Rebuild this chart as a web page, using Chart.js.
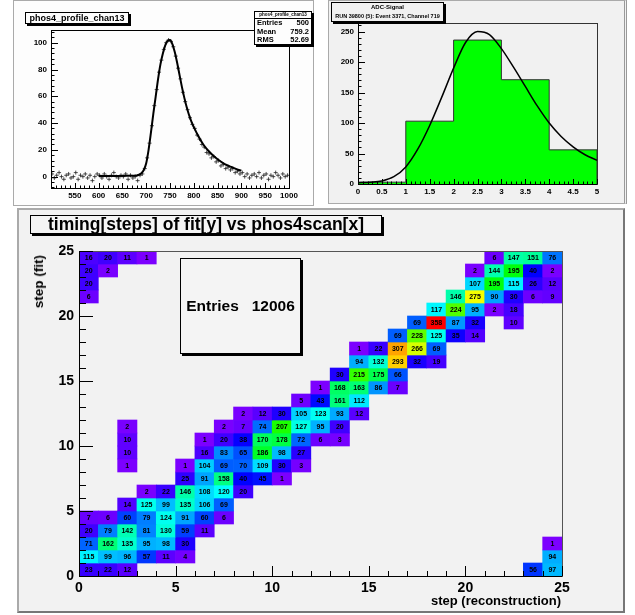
<!DOCTYPE html>
<html>
<head>
<meta charset="utf-8">
<script src="https://cdn.jsdelivr.net/npm/chart.js@4.4.0/dist/chart.umd.min.js"></script>
<style>
  body { margin: 0; width: 635px; height: 615px; position: relative; overflow: hidden; background: #fff;
         font-family: "Liberation Sans", Arial, sans-serif; color: #000; }
  .pad { position: absolute; box-sizing: border-box; }
  canvas { position: absolute; }
  .box { position: absolute; box-sizing: border-box; border: 1px solid #000; box-shadow: 2px 2px 0 #000;
         text-align: center; font-weight: bold; white-space: nowrap; }
  .txt { position: absolute; font-weight: bold; white-space: nowrap; }
</style>
</head>
<body>
<div class="pad" style="left:13px;top:0;width:301px;height:206px;border:1px solid #aaa;background:#fdfdfd"></div>
<div class="pad" style="left:328px;top:0;width:299px;height:204px;border:1px solid #aaa;border-right:3px double #999;background:#f1f1f1"></div>
<div class="pad" style="left:17px;top:208px;width:608px;height:405px;border:2px solid #aaa;border-right-color:#777;border-bottom-color:#777;background:#f2f2f2"></div>

<canvas id="profChart" width="298" height="204" style="left:14px;top:0"></canvas>
<canvas id="adcChart" width="295" height="203" style="left:330px;top:0"></canvas>
<canvas id="timingChart" width="604" height="401" style="left:19px;top:210px"></canvas>

<div class="box" style="left:25px;top:12px;width:104px;height:12px;font-size:9px;line-height:10px;background:#fdfdfd">phos4_profile_chan13</div>
<div class="box" style="left:254px;top:11px;width:58px;height:34px;background:#fdfdfd;font-size:7.5px;text-align:left">
  <div style="font-size:4.5px;line-height:6px;text-align:center;border-bottom:1px solid #000">phos4_profile_chan13</div>
  <div style="display:flex;justify-content:space-between;padding:0 2px;line-height:8.5px"><span>Entries</span><span>500</span></div>
  <div style="display:flex;justify-content:space-between;padding:0 2px;line-height:8.5px"><span>Mean</span><span>759.2</span></div>
  <div style="display:flex;justify-content:space-between;padding:0 2px;line-height:8.5px"><span>RMS</span><span>52.69</span></div>
</div>
<div class="box" style="left:331px;top:2px;width:113px;height:20px;background:#f1f1f1;font-size:6px;line-height:9px">
  <div>ADC-Signal</div>
  <div style="font-size:5.5px">RUN 39800 (5): Event 3371, Channel 719</div>
</div>
<div class="box" style="left:30px;top:215px;width:352px;height:19px;background:#f4f4f4;font-size:17.5px;line-height:17px">timing[steps] of fit[y] vs phos4scan[x]</div>
<div class="box" style="left:180px;top:258px;width:121px;height:96px;background:#f4f4f4;font-size:15.5px;line-height:94px">Entries&nbsp;&nbsp;&nbsp;12006</div>
<div class="txt" style="left:31px;top:255px;font-size:13.5px;writing-mode:vertical-rl;transform:rotate(180deg)">step (fit)</div>
<div class="txt" style="right:74px;top:593px;font-size:13px">step (reconstruction)</div>

<script>
// profile phos4_profile_chan13 (points every 5 units)
const profX = [502,507,512,517,522,527,532,537,542,547,552,557,562,567,572,577,582,587,592,597,
               602,607,612,617,622,627,632,637,642,647,652,657,662,667,672,677,682,687,692,697,
               702,707,712,717,722,727,732,737,742,747,752,757,762,767,772,777,782,787,792,797,
               802,807,812,817,822,827,832,837,842,847,852,857,862,867,872,877,882,887,892,897,
               902,907,912,917,922,927,932,937,942,947,952,957,962,967,972,977,982,987,992,997];
const profY = [2,-1,1,3,0,-2,1,2,-1,0,3,-2,1,0,2,-1,1,-3,0,2,
               1,-1,2,0,-2,1,3,0,-1,1,0,2,-2,1,-1,0,-3,1,2,6,
               14,25,38,53,65,78,87,95,100,102,101,97,90,81,73,63,56,50,44,39,
               36,31,28,24,22,18,17,14,15,11,12,8,9,6,7,5,6,3,4,2,
               3,0,2,-1,1,2,0,3,-1,1,2,-2,1,0,3,1,-1,2,0,1];
const profFitX = [600,620,640,660,680,685,690,695,700,705,710,715,720,725,730,735,740,745,750,755,
                  760,765,770,775,780,785,790,795,800,810,820,830,840,850,860,870,880,890,900];
const profFitY = [0.5,0.5,0.5,0.6,0.9,1.4,2.5,5,10,20,33,47,60,73,84,92,98,101.5,102,99,
                  93,85,76,67,59,52,46,41,37,30,24,19.5,16,13,10.5,8.5,7,5.5,4.5];
const profXTicks = [550,600,650,700,750,800,850,900,950,1000];
const profYTicks = [0,20,40,60,80,100];

// ADC-Signal histogram
const adcEdges = [0,1,2,3,4,5];
const adcCounts = [3,103,236,171,56];
const adcFitX = [0,0.25,0.5,0.75,1,1.25,1.5,1.75,2,2.25,2.5,2.75,3,3.25,3.5,3.75,4,4.25,4.5,4.75,5];
const adcFitY = [2,3,5,12,28,57,96,142,190,232,250,245,222,192,160,128,100,78,61,48,39];
const adcXTicks = [0,0.5,1,1.5,2,2.5,3,3.5,4,4.5,5];
const adcYTicks = [0,50,100,150,200,250];

// timing[steps] of fit[y] vs phos4scan[x]
const cellX = [0,1,2,23,24,
               0,1,2,3,4,5,24,
               0,1,2,3,4,5,24,
               0,1,2,3,4,5,6,
               0,1,2,3,4,5,6,7,
               2,3,4,5,6,7,
               3,4,5,6,7,8,
               5,6,7,8,9,10,
               2,5,6,7,8,9,10,11,
               2,6,7,8,9,10,11,
               2,6,7,8,9,10,11,12,13,
               2,7,8,9,10,11,12,13,
               8,9,10,11,12,13,14,
               11,12,13,14,
               12,13,14,15,16,
               13,14,15,16,
               14,15,16,17,18,
               14,15,16,17,18,
               16,17,18,19,20,
               17,18,19,20,22,
               18,19,20,21,22,
               0,19,20,21,22,23,24,
               0,20,21,22,23,24,
               0,1,20,21,22,23,24,
               0,1,2,3,21,22,23,24];
const cellY = [0,0,0,0,0,
               1,1,1,1,1,1,1,
               2,2,2,2,2,2,2,
               3,3,3,3,3,3,3,
               4,4,4,4,4,4,4,4,
               5,5,5,5,5,5,
               6,6,6,6,6,6,
               7,7,7,7,7,7,
               8,8,8,8,8,8,8,8,
               9,9,9,9,9,9,9,
               10,10,10,10,10,10,10,10,10,
               11,11,11,11,11,11,11,11,
               12,12,12,12,12,12,12,
               13,13,13,13,
               14,14,14,14,14,
               15,15,15,15,
               16,16,16,16,16,
               17,17,17,17,17,
               18,18,18,18,18,
               19,19,19,19,19,
               20,20,20,20,20,
               21,21,21,21,21,21,21,
               22,22,22,22,22,22,
               23,23,23,23,23,23,23,
               24,24,24,24,24,24,24,24];
const cellN = [23,22,12,56,97,
               115,99,96,57,11,4,94,
               71,162,135,95,98,30,1,
               20,79,142,81,130,59,11,
               7,6,60,79,124,91,60,6,
               14,125,99,135,106,69,
               2,22,146,108,120,20,
               25,91,158,40,45,1,
               1,1,104,69,70,109,30,3,
               10,16,83,65,186,98,27,
               10,1,20,38,170,178,72,6,3,
               2,2,7,74,207,127,95,20,
               2,12,30,105,123,93,12,
               5,43,161,112,
               1,168,163,86,7,
               30,215,175,66,
               94,132,293,32,19,
               1,22,307,266,69,
               69,228,125,35,14,
               69,358,87,32,10,
               117,224,95,2,18,
               6,146,275,90,30,6,9,
               20,107,195,115,26,12,
               20,2,2,144,195,40,2,
               16,20,11,1,6,147,151,76];
const stepTicks = [0,5,10,15,20,25];

const FONT = '"Liberation Sans", Arial, sans-serif';
Chart.defaults.font.family = FONT;
Chart.defaults.color = '#000';

// ROOT style frame with ticks pointing into the pad
const rootAxes = {
  id: 'rootAxes',
  afterDraw(chart, args, o) {
    const { ctx, chartArea: a } = chart;
    const sx = chart.scales.x, sy = chart.scales.y;
    const isMul = (v, m) => Math.abs(v / m - Math.round(v / m)) < 1e-6;
    const walk = (r, fn) => { const n = Math.round((r[1] - r[0]) / r[2]); for (let k = 0; k <= n; k++) fn(r[0] + k * r[2]); };
    ctx.save();
    ctx.lineWidth = 1;
    ctx.strokeStyle = o.frame;
    ctx.strokeRect(Math.round(a.left) + 0.5, Math.round(a.top) + 0.5, Math.round(a.width), Math.round(a.height));
    ctx.strokeStyle = '#000';
    ctx.beginPath();
    const bx = Math.round(a.bottom) + 0.5, lx = Math.round(a.left) + 0.5;
    ctx.moveTo(a.left, bx); ctx.lineTo(a.right, bx);
    ctx.moveTo(lx, a.top); ctx.lineTo(lx, a.bottom);
    walk(o.x, v => {
      const px = Math.round(sx.getPixelForValue(v)) + 0.5;
      const len = isMul(v, o.x[3]) ? o.len[0] : o.len[0] / 2;
      ctx.moveTo(px, a.bottom); ctx.lineTo(px, a.bottom - len);
    });
    walk(o.y, v => {
      const py = Math.round(sy.getPixelForValue(v)) + 0.5;
      const len = isMul(v, o.y[3]) ? o.len[1] : o.len[1] / 2;
      ctx.moveTo(a.left, py); ctx.lineTo(a.left + len, py);
    });
    ctx.stroke();
    ctx.restore();
  }
};

function axis(min, max, ticks, fontSize, pad, fixed, horizontal) {
  return {
    type: 'linear', min: min, max: max, offset: false,
    grid: { display: false, drawTicks: false },
    border: { display: false },
    ticks: { font: { size: fontSize, weight: 'bold' }, padding: pad, maxRotation: 0, autoSkip: false,
             callback: v => String(v) },
    afterBuildTicks: s => { s.ticks = ticks.map(v => ({ value: v })); },
    afterFit: s => {
      if (horizontal) { s.height = fixed; s.paddingLeft = 0; s.paddingRight = 0; }
      else { s.width = fixed; s.paddingTop = 0; s.paddingBottom = 0; }
    }
  };
}

new Chart(document.getElementById('profChart'), {
  type: 'scatter',
  data: {
    datasets: [{
      data: profFitX.map((x, i) => ({ x: x, y: profFitY[i] })),
      showLine: true, borderColor: '#000', borderWidth: 2, pointRadius: 0,
      cubicInterpolationMode: 'monotone'
    }, {
      data: profX.map((x, i) => ({ x: x, y: profY[i] })),
      pointStyle: 'cross', pointRadius: 2, borderWidth: 0.8, borderColor: '#222'
    }]
  },
  options: {
    responsive: false, animation: false, devicePixelRatio: 1,
    layout: { padding: { top: 30, right: 23, left: 0, bottom: 0 } },
    plugins: { legend: { display: false }, tooltip: { enabled: false },
      rootAxes: { frame: '#000', x: [500, 1000, 10, 50], y: [-8, 108, 4, 20], len: [5, 7] } },
    scales: {
      x: axis(500, 1000, profXTicks, 8, 3, 16, true),
      y: axis(-8.5, 109.5, profYTicks, 8, 4, 37, false)
    }
  },
  plugins: [rootAxes]
});

const adcOutline = [{ x: adcEdges[0], y: 0 }]
  .concat(adcCounts.map((c, i) => ({ x: adcEdges[i], y: c })))
  .concat([{ x: adcEdges[adcEdges.length - 1], y: 0 }]);

new Chart(document.getElementById('adcChart'), {
  type: 'scatter',
  data: {
    datasets: [{
      data: adcFitX.map((x, i) => ({ x: x, y: adcFitY[i] })),
      showLine: true, borderColor: '#000', borderWidth: 1.5, pointRadius: 0,
      cubicInterpolationMode: 'monotone'
    }, {
      data: adcOutline,
      showLine: true, stepped: 'before', fill: 'origin',
      backgroundColor: '#00ff00', borderColor: '#333', borderWidth: 1, pointRadius: 0
    }]
  },
  options: {
    responsive: false, animation: false, devicePixelRatio: 1,
    layout: { padding: { top: 23, right: 28, left: 0, bottom: 0 } },
    plugins: { legend: { display: false }, tooltip: { enabled: false },
      rootAxes: { frame: '#333', x: [0, 5, 0.1, 0.5], y: [0, 260, 10, 50], len: [5, 7] } },
    scales: {
      x: axis(0, 5, adcXTicks, 8, 3, 19, true),
      y: axis(0, 264, adcYTicks, 8, 4, 28, false)
    }
  },
  plugins: [rootAxes]
});

const maxCount = Math.max(...cellN);
function paletteColor(n) {
  const h = 270 * (1 - Math.min(n / maxCount, 1));
  return 'hsl(' + h.toFixed(1) + ',100%,50%)';
}

const cellText = {
  id: 'cellText',
  afterDatasetsDraw(chart) {
    const { ctx } = chart;
    const meta = chart.getDatasetMeta(0);
    ctx.save();
    ctx.font = 'bold 7px ' + FONT;
    ctx.textAlign = 'center';
    ctx.textBaseline = 'middle';
    ctx.fillStyle = '#000';
    meta.data.forEach((bar, i) => {
      const p = bar.getProps(['x', 'y', 'base'], true);
      ctx.fillText(String(cellN[i]), p.x, (p.y + p.base) / 2 + 0.5);
    });
    ctx.restore();
  }
};

new Chart(document.getElementById('timingChart'), {
  type: 'bar',
  data: {
    datasets: [{
      data: cellX.map((x, i) => ({ x: x + 0.5, y: [cellY[i], cellY[i] + 1] })),
      backgroundColor: cellN.map(paletteColor),
      borderWidth: 0, barPercentage: 1, categoryPercentage: 1
    }]
  },
  options: {
    responsive: false, animation: false, devicePixelRatio: 1,
    layout: { padding: { top: 41, right: 61, left: 0, bottom: 0 } },
    plugins: { legend: { display: false }, tooltip: { enabled: false },
      rootAxes: { frame: '#555', x: [0, 25, 1, 5], y: [0, 25, 1, 5], len: [10, 14] } },
    scales: {
      x: axis(0, 25, stepTicks, 14, 4, 35, true),
      y: axis(0, 25, stepTicks, 14, 5, 60, false)
    }
  },
  plugins: [cellText, rootAxes]
});
</script>
</body>
</html>
